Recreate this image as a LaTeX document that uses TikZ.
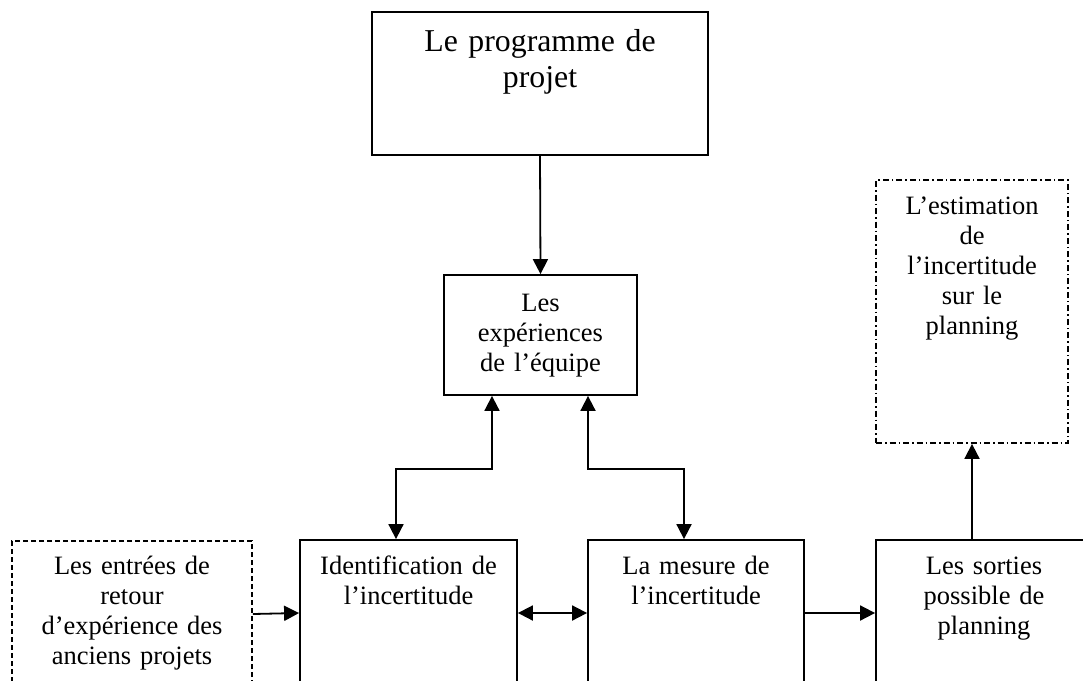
\documentclass[tikz,border=0pt]{standalone}
\usepackage{fontspec}
\setmainfont{Liberation Serif}
\usetikzlibrary{arrows.meta,positioning,calc}

\tikzset{
  box/.style={draw, rectangle, line width=1.8pt},
  entbox/.style={box, dash pattern=on 5pt off 3pt},
  estbox/.style={box, dash pattern=on 6pt off 3pt on 1.5pt off 3pt},
  txt/.style={anchor=base, align=center, inner sep=0pt, font=\fontsize{26.5}{30}\selectfont},
  bigtxt/.style={txt, font=\fontsize{31.8}{36}\selectfont},
  arr/.style={line width=1.8pt, -{Triangle[length=15pt,width=15pt]}},
  darr/.style={line width=1.8pt, {Triangle[length=15pt,width=15pt]}-{Triangle[length=15pt,width=15pt]}}
}

\begin{document}
\begin{tikzpicture}[x=1pt, y=1pt]
  \path[use as bounding box, clip] (0,0) rectangle (1083,-680);

  % boxes
  \node[box, minimum width=336pt, minimum height=143pt] (prog) at (540,-83.5) {};
  \node[box, minimum width=193pt, minimum height=120pt] (exp) at (540.5,-335) {};
  \node[entbox, minimum width=240pt, minimum height=160pt] (entrees) at (132,-621) {};
  \node[box, minimum width=217pt, minimum height=160pt] (ident) at (408.5,-620) {};
  \node[box, minimum width=216pt, minimum height=160pt] (mesure) at (696,-620) {};
  \node[box, minimum width=216pt, minimum height=160pt] (sorties) at (984,-620) {};
  \node[estbox, minimum width=192pt, minimum height=263pt] (estim) at (972,-311.5) {};

  % texts
  \node[bigtxt, text width=330pt] at ([yshift=-40pt]prog.north) {Le programme de\\projet};
  \node[txt, text width=190pt] at ([yshift=-37pt]exp.north) {Les\\expériences\\de l’équipe};
  \node[txt, text width=236pt] at ([yshift=-34pt]entrees.north) {Les entrées de\\retour\\d’expérience des\\anciens projets};
  \node[txt, text width=214pt] at ([yshift=-35pt]ident.north) {Identification de\\l’incertitude};
  \node[txt, text width=214pt] at ([yshift=-35pt]mesure.north) {La mesure de\\l’incertitude};
  \node[txt, text width=214pt] at ([yshift=-35pt]sorties.north) {Les sorties\\possible de\\planning};
  \node[txt, text width=190pt] at ([yshift=-35pt]estim.north) {L’estimation\\de\\l’incertitude\\sur le\\planning};

  % connectors
  \draw[arr] (prog.south) -- (exp.north);
  \draw[darr] ([xshift=-48.5pt]exp.south) -- ++(0,-73) -| ([xshift=-12.5pt]ident.north);
  \draw[darr] ([xshift=47.5pt]exp.south) -- ++(0,-73) -| ([xshift=-12pt]mesure.north);
  \draw[arr] ([yshift=7pt]entrees.east) -- ([yshift=7pt]ident.west);
  \draw[darr] ([yshift=7pt]ident.east) -- ([yshift=7pt]mesure.west);
  \draw[arr] ([yshift=7pt]mesure.east) -- ([yshift=7pt]sorties.west);
  \draw[arr] (sorties.north -| estim.south) -- (estim.south);
\end{tikzpicture}
\end{document}
